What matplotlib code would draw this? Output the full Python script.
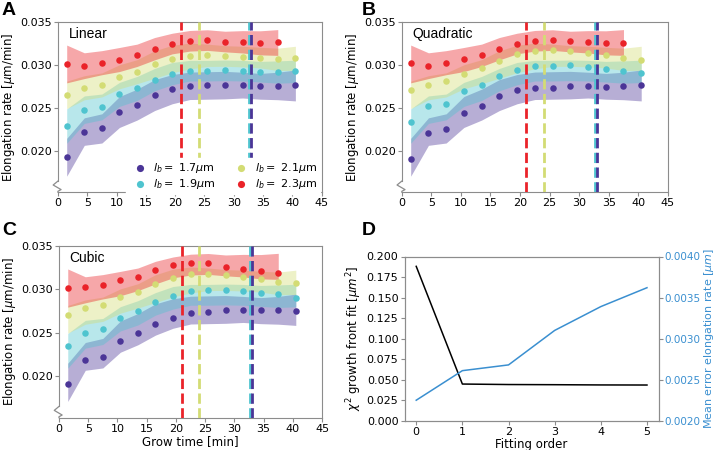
import numpy as np
import matplotlib
matplotlib.use("Agg")
import matplotlib.pyplot as plt

# bin centres of grow time [min]
grow_time = [1.5, 4.5, 7.5, 10.5, 13.5, 16.5, 19.5, 22.5, 25.5, 28.5, 31.5, 34.5, 37.5, 40.5]
birth_lengths = ["1.7", "1.9", "2.1", "2.3"]
colors = ["#4b3597", "#4fc4cf", "#d3dc74", "#ea2329"]

# data bands (same in every panel): centre and spread
band_17 = [0.01926, 0.02225, 0.02262, 0.02453, 0.02539, 0.02650, 0.02719, 0.02758, 0.02762, 0.02766, 0.02766, 0.02752, 0.02756, 0.02762]
band_19 = [0.02289, 0.02480, 0.02512, 0.02658, 0.02727, 0.02830, 0.02900, 0.02934, 0.02934, 0.02938, 0.02934, 0.02922, 0.02918, 0.02926]
band_21 = [0.02652, 0.02735, 0.02768, 0.02863, 0.02922, 0.03006, 0.03070, 0.03105, 0.03113, 0.03105, 0.03098, 0.03086, 0.03066, 0.03078]
band_23 = [0.03012, 0.02992, 0.03027, 0.03064, 0.03113, 0.03190, 0.03250, 0.03282, 0.03290, 0.03273, 0.03270, 0.03258, 0.03262]
std_17 = [0.0022, 0.0016, 0.0017, 0.0018, 0.0018, 0.0018, 0.0017, 0.0016, 0.0016, 0.0016, 0.0015, 0.0015, 0.0016, 0.0018]
std_19 = [0.0020, 0.0016, 0.0015, 0.0014, 0.0014, 0.0013, 0.0013, 0.0012, 0.0012, 0.0012, 0.0012, 0.0012, 0.0013, 0.0013]
std_21 = [0.0016, 0.0014, 0.0014, 0.0014, 0.0014, 0.0016, 0.0016, 0.0015, 0.0013, 0.0012, 0.0012, 0.0012, 0.0013, 0.0014]
std_23 = [0.0022, 0.0015, 0.0014, 0.0014, 0.0013, 0.0013, 0.0012, 0.0012, 0.0012, 0.0012, 0.0013, 0.0014, 0.0015]

# fitted elongation rates per fit order
linear_17 = [0.01926, 0.02225, 0.02262, 0.02453, 0.02539, 0.02650, 0.02719, 0.02758, 0.02762, 0.02766, 0.02766, 0.02752, 0.02756, 0.02762]
linear_19 = [0.02289, 0.02480, 0.02512, 0.02658, 0.02727, 0.02830, 0.02900, 0.02934, 0.02934, 0.02938, 0.02934, 0.02922, 0.02918, 0.02926]
linear_21 = [0.02652, 0.02735, 0.02768, 0.02863, 0.02922, 0.03006, 0.03070, 0.03105, 0.03113, 0.03105, 0.03098, 0.03086, 0.03066, 0.03078]
linear_23 = [0.03012, 0.02992, 0.03027, 0.03064, 0.03113, 0.03190, 0.03250, 0.03282, 0.03290, 0.03273, 0.03270, 0.03258, 0.03262]

quad_17 = [0.01906, 0.02211, 0.02250, 0.02441, 0.02523, 0.02637, 0.02707, 0.02734, 0.02738, 0.02750, 0.02754, 0.02746, 0.02750, 0.02770]
quad_19 = [0.02336, 0.02520, 0.02551, 0.02695, 0.02762, 0.02867, 0.02941, 0.02988, 0.02992, 0.02996, 0.02977, 0.02949, 0.02934, 0.02910]
quad_21 = [0.02707, 0.02773, 0.02809, 0.02898, 0.02961, 0.03051, 0.03129, 0.03168, 0.03176, 0.03168, 0.03145, 0.03113, 0.03086, 0.03055]
quad_23 = [0.03020, 0.02988, 0.03027, 0.03066, 0.03113, 0.03188, 0.03250, 0.03285, 0.03293, 0.03277, 0.03270, 0.03258, 0.03258]

cubic_17 = [0.01911, 0.02181, 0.02220, 0.02406, 0.02498, 0.02599, 0.02672, 0.02723, 0.02734, 0.02754, 0.02761, 0.02754, 0.02761, 0.02746]
cubic_19 = [0.02344, 0.02498, 0.02541, 0.02669, 0.02746, 0.02850, 0.02924, 0.02978, 0.02990, 0.02993, 0.02982, 0.02955, 0.02947, 0.02897]
cubic_21 = [0.02707, 0.02788, 0.02819, 0.02908, 0.02966, 0.03063, 0.03133, 0.03171, 0.03179, 0.03167, 0.03140, 0.03113, 0.03082, 0.03071]
cubic_23 = [0.03017, 0.03024, 0.03051, 0.03102, 0.03140, 0.03218, 0.03276, 0.03295, 0.03295, 0.03256, 0.03237, 0.03210, 0.03191]

# transition times (dashed lines) per birth length
transition_time = [33.0, 32.6, 24.0, 21.0]

# panel D
fit_order = [0, 1, 2, 3, 4, 5]
chi2_front = [0.188, 0.0447, 0.0441, 0.0439, 0.0436, 0.0435]
mean_err_rate = [0.00225, 0.00261, 0.00268, 0.00310, 0.00339, 0.00362]

bands = [band_17, band_19, band_21, band_23]
stds = [std_17, std_19, std_21, std_23]
panels = [
    ("A", "Linear", [linear_17, linear_19, linear_21, linear_23]),
    ("B", "Quadratic", [quad_17, quad_19, quad_21, quad_23]),
    ("C", "Cubic", [cubic_17, cubic_19, cubic_21, cubic_23]),
]

spine_col = "0.55"
plt.rcParams["font.size"] = 8

fig = plt.figure(figsize=(7.15, 4.5), dpi=100)
rects = {
    "A": [0.081, 0.573, 0.369, 0.378],
    "B": [0.562, 0.573, 0.372, 0.378],
    "C": [0.0825, 0.072, 0.368, 0.382],
    "D": [0.566, 0.065, 0.355, 0.365],
}


def style_axes(ax):
    for s in ax.spines.values():
        s.set_color(spine_col)
    ax.tick_params(color=spine_col, labelsize=8, length=3, pad=1.5)


for letter, title, fits in panels:
    ax = fig.add_axes(rects[letter])
    style_axes(ax)
    for k in range(4):
        n = len(bands[k])
        c = np.array(bands[k])
        s = np.array(stds[k])
        ax.fill_between(grow_time[:n], c - s, c + s, color=colors[k], alpha=0.4, lw=0, zorder=1)
    for k in range(4):
        n = len(fits[k])
        ax.scatter(grow_time[:n], fits[k], s=22, color=colors[k], zorder=3,
                   label=rf"$l_b = $ {birth_lengths[k]}$\mu$m", linewidths=0)
    for k in [3, 2, 1, 0]:
        ax.axvline(transition_time[k], color=colors[k], ls="--", lw=2, zorder=4)
    ax.set_xlim(0, 45)
    ax.set_ylim(0.0152, 0.035)
    ax.set_xticks(range(0, 46, 5))
    ax.set_yticks([0.020, 0.025, 0.030, 0.035])
    ax.set_ylabel(r"Elongation rate [$\mu$m/min]", fontsize=8.5, labelpad=2)
    ax.text(0.04, 0.93, title, transform=ax.transAxes, fontsize=10,
            family="Liberation Sans", va="center", ha="left")
    # broken axis mark
    ax.spines["left"].set_bounds(0.0152 + 0.065 * (0.035 - 0.0152), 0.035)
    ax.plot([0, -0.018, 0.012, 0, 0], [0.065, 0.042, 0.015, 0.005, 0.0],
            transform=ax.transAxes, color=spine_col, lw=0.9, clip_on=False, zorder=5)
    if letter == "A":
        leg = ax.legend(ncol=2, loc="lower right", bbox_to_anchor=(1.015, -0.045),
                        fontsize=8, frameon=True, framealpha=1, edgecolor="white",
                        handletextpad=0.2, columnspacing=1.3, borderpad=0.3,
                        labelspacing=0.15, fancybox=False, markerscale=1.1)
        leg.set_zorder(6)
    if letter == "C":
        ax.set_xlabel("Grow time [min]", fontsize=8.5, labelpad=1)

# panel D
axd = fig.add_axes(rects["D"])
style_axes(axd)
axd.plot(fit_order, chi2_front, color="black", lw=1.1)
axd.set_ylim(0, 0.2)
axd.set_yticks(np.arange(0, 0.201, 0.025))
axd.set_xticks(fit_order)
axd.set_xlabel("Fitting order", fontsize=8.5, labelpad=1)
axd.set_ylabel(r"$\chi^2$ growth front fit [$\mu m^2$]", fontsize=8.5, labelpad=2)

err_col = "#3a8fd0"
axr = axd.twinx()
style_axes(axr)
axr.plot(fit_order, mean_err_rate, color=err_col, lw=1.1)
axr.set_ylim(0.002, 0.004)
axr.set_yticks([0.0020, 0.0025, 0.0030, 0.0035, 0.0040])
axr.tick_params(axis="y", labelcolor=err_col, labelsize=7.5)
axr.set_ylabel(r"Mean error elongation rate [$\mu m$]", color=err_col, fontsize=8, labelpad=1)

for letter, (px, py) in {"A": (2, 2), "B": (362, 2), "C": (2, 222), "D": (362, 222)}.items():
    fig.text(px / 715, 1 - py / 450, letter, fontsize=14, fontweight="bold",
             family="Liberation Sans", va="top", ha="left")

fig.savefig("out.png", dpi=100)
